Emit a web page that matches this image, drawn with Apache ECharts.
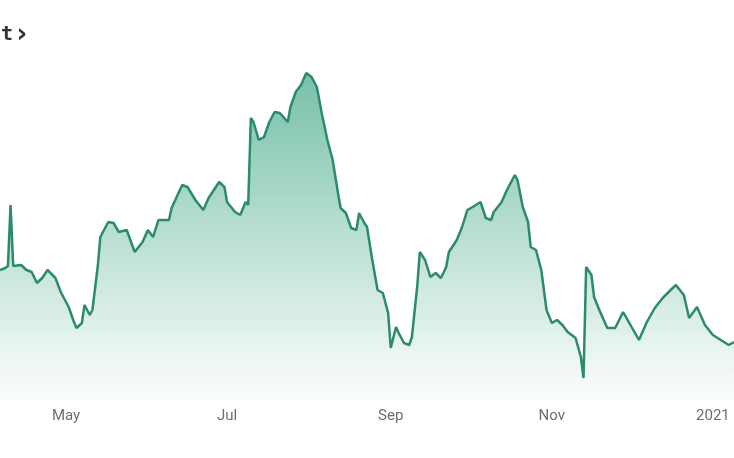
<!DOCTYPE html>
<html>
<head>
<meta charset="utf-8">
<script src="https://cdn.jsdelivr.net/npm/echarts@6/dist/echarts.min.js"></script>
<style>html,body{margin:0;padding:0;background:#fff;}#c{width:734px;height:458px;}</style>
</head>
<body>
<div id="c"></div>
<script>
const dates = [
'2020-04-06','2020-04-08','2020-04-09','2020-04-10','2020-04-11','2020-04-14','2020-04-16','2020-04-18','2020-04-20','2020-04-22',
'2020-04-24','2020-04-27','2020-04-29','2020-05-02','2020-05-04','2020-05-05','2020-05-07','2020-05-08','2020-05-10','2020-05-11',
'2020-05-13','2020-05-14','2020-05-17','2020-05-19','2020-05-21','2020-05-24','2020-05-27','2020-05-30','2020-06-01','2020-06-03',
'2020-06-05','2020-06-09','2020-06-10','2020-06-14','2020-06-16','2020-06-19','2020-06-22','2020-06-24','2020-06-28','2020-06-30',
'2020-07-01','2020-07-04','2020-07-06','2020-07-08','2020-07-09','2020-07-10','2020-07-11','2020-07-13','2020-07-15','2020-07-17',
'2020-07-19','2020-07-21','2020-07-24','2020-07-25','2020-07-27','2020-07-29','2020-07-31','2020-08-02','2020-08-04','2020-08-06',
'2020-08-08','2020-08-10','2020-08-12','2020-08-13','2020-08-15','2020-08-17','2020-08-19','2020-08-20','2020-08-22','2020-08-23',
'2020-08-25','2020-08-27','2020-08-29','2020-08-31','2020-09-01','2020-09-03','2020-09-04','2020-09-06','2020-09-08','2020-09-09',
'2020-09-11','2020-09-12','2020-09-14','2020-09-16','2020-09-18','2020-09-20','2020-09-22','2020-09-23','2020-09-26','2020-09-28',
'2020-09-30','2020-10-02','2020-10-05','2020-10-07','2020-10-09','2020-10-10','2020-10-13','2020-10-15','2020-10-18','2020-10-19',
'2020-10-21','2020-10-23','2020-10-24','2020-10-26','2020-10-28','2020-10-30','2020-11-01','2020-11-03','2020-11-05','2020-11-07',
'2020-11-10','2020-11-12','2020-11-13','2020-11-14','2020-11-16','2020-11-17','2020-11-19','2020-11-22','2020-11-25','2020-11-28',
'2020-12-01','2020-12-04','2020-12-07','2020-12-10','2020-12-13','2020-12-16','2020-12-18','2020-12-21','2020-12-23','2020-12-26',
'2020-12-29','2021-01-01','2021-01-04','2021-01-07','2021-01-09'
];
const values = [
13.0,13.2,13.4,19.5,13.4,13.5,13.0,12.8,11.7,12.2,
13.0,12.2,10.8,9.3,7.8,7.2,7.7,9.5,8.5,9.0,
13.3,16.3,17.8,17.7,16.8,17.0,14.8,15.8,17.0,16.3,
18.0,18.0,19.2,21.5,21.3,20.0,19.0,20.2,21.8,21.3,
19.8,18.8,18.5,19.8,19.5,28.2,27.8,26.0,26.3,27.8,
28.8,28.7,27.8,29.3,30.8,31.5,32.7,32.3,31.3,28.5,
26.0,24.0,20.7,19.2,18.7,17.2,17.0,18.7,17.7,17.3,
14.0,11.0,10.7,8.7,5.2,7.3,6.7,5.7,5.5,6.3,
11.3,14.8,14.0,12.3,12.7,12.2,13.3,14.8,16.0,17.3,
19.0,19.3,19.8,18.2,18.0,18.8,19.8,21.0,22.5,22.0,
19.3,17.8,15.3,15.0,13.0,9.0,7.7,8.0,7.5,6.8,
6.2,4.3,2.2,13.3,12.5,10.3,9.0,7.2,7.2,8.8,
7.4,6.0,7.8,9.2,10.2,11.0,11.5,10.5,8.2,9.3,
7.5,6.5,6.0,5.5,5.8
];
const tickDates = ['2020-05-01','2020-07-01','2020-09-01','2020-11-01','2021-01-01'];
const tickLabels = ['May','Jul','Sep','Nov','2021'];
const xRange = ['2020-04-06','2021-01-09'];
const titleParts = ['t', '›'];

const toT = d => +echarts.number.parseDate(d);
const tickTimes = tickDates.map(toT);
const chart = echarts.init(document.getElementById('c'));
chart.setOption({
  animation: false,
  graphic: [{
    type: 'text', left: 1, top: 22,
    style: {
      text: '{a|' + titleParts[0] + '} {b|' + titleParts[1] + '}',
      rich: {
        a: { font: 'bold 20px "DejaVu Sans Mono"', fill: '#333333' },
        b: { font: 'bold 26px "DejaVu Sans"', fill: '#333333' }
      }
    }
  }],
  grid: { left: 0, right: 0, top: 0, bottom: 58 },
  xAxis: {
    type: 'value',
    min: toT(xRange[0]), max: toT(xRange[1]),
    axisLine: { show: false },
    axisTick: { show: false },
    splitLine: { show: false },
    axisLabel: {
      customValues: tickTimes,
      margin: 9,
      color: '#6e6e6e',
      fontSize: 15,
      fontFamily: 'Roboto, sans-serif',
      formatter: function (v) {
        const i = tickTimes.findIndex(t => Math.abs(t - v) < 43200000);
        return i >= 0 ? tickLabels[i] : '';
      }
    }
  },
  yAxis: { type: 'value', min: 0, max: 40, show: false, splitLine: { show: false } },
  series: [{
    type: 'line',
    data: dates.map((d, i) => [toT(d), values[i]]),
    showSymbol: false,
    lineStyle: { color: '#2b8a70', width: 2.5 },
    areaStyle: {
      color: new echarts.graphic.LinearGradient(0, 0, 0, 1, [
        { offset: 0, color: 'rgba(44,158,122,0.92)' },
        { offset: 1, color: 'rgba(44,158,122,0.02)' }
      ])
    }
  }]
});
</script>
</body>
</html>
